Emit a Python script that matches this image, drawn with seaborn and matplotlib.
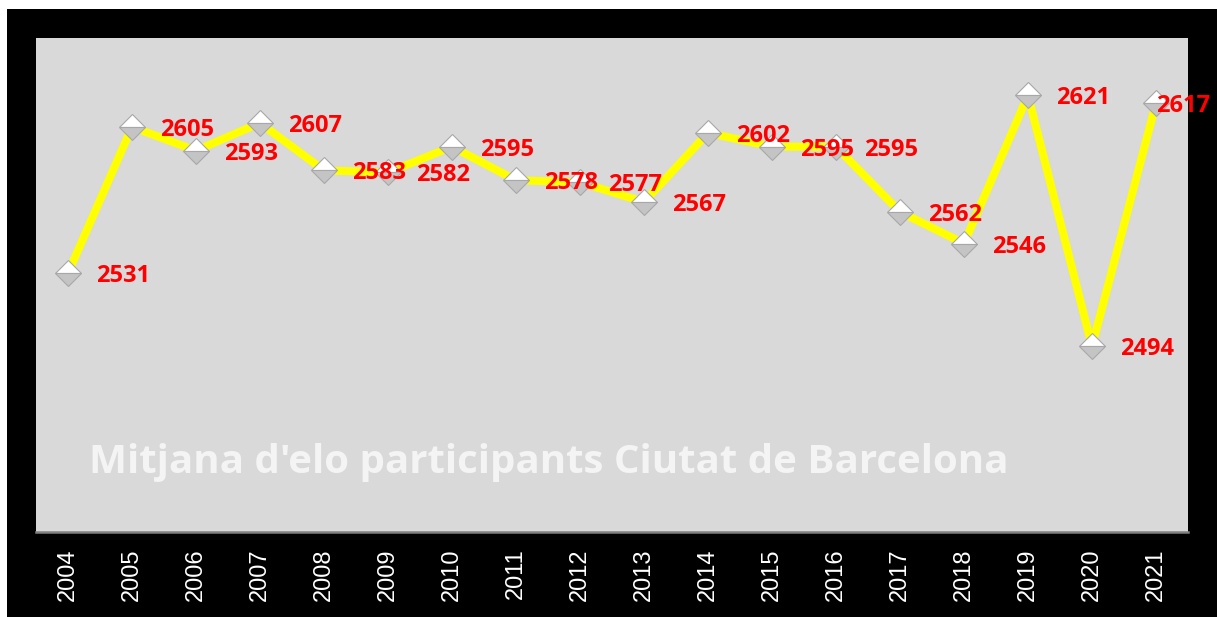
import matplotlib
matplotlib.use("Agg")
import matplotlib.pyplot as plt
import seaborn as sns
import pandas as pd
from matplotlib.patches import Rectangle

years = ["2004", "2005", "2006", "2007", "2008", "2009", "2010", "2011", "2012",
         "2013", "2014", "2015", "2016", "2017", "2018", "2019", "2020", "2021"]
elo = [2531, 2605, 2593, 2607, 2583, 2582, 2595, 2578, 2577,
       2567, 2602, 2595, 2595, 2562, 2546, 2621, 2494, 2617]
title = "Mitjana d'elo participants Ciutat de Barcelona"

df = pd.DataFrame({"year": years, "elo": elo})

sns.set_style("white")
plt.rcParams["font.family"] = ["Open Sans", "DejaVu Sans"]

fig = plt.figure(figsize=(12.17, 6.17), dpi=100)
fig.patch.set_facecolor("white")
# black frame behind the chart
fig.patches.append(Rectangle((7 / 1217, 0), 1 - 7 / 1217, 1 - 9 / 617,
                             transform=fig.transFigure, facecolor="black",
                             edgecolor="none", zorder=-10))

ax = fig.add_axes([36 / 1217, 85 / 617, 1152 / 1217, 494 / 617])
ax.set_zorder(1)
ax.set_facecolor("#d9d9d9")

sns.lineplot(data=df, x="year", y="elo", ax=ax, color="#ffff00", linewidth=5.8,
             marker="D", markersize=13, markerfacecolor="white",
             markerfacecoloralt="#c4c4c4", fillstyle="top",
             markeredgecolor="#a8a8a8", markeredgewidth=0.8, sort=False)

for i, v in enumerate(elo):
    dx = 20 if i < len(elo) - 1 else 0
    ax.annotate(str(v), (i, v), xytext=(dx, 0), textcoords="offset points",
                ha="left", va="center_baseline", color="#ff0000", fontsize=17,
                fontweight="bold", annotation_clip=False)

ax.text(0.046, 0.14, title, transform=ax.transAxes, color="#f4f4f4",
        fontsize=29, fontweight="bold", ha="left", va="center")

ax.set_xlim(-0.5, len(years) - 0.5)
ax.set_ylim(2400, 2650)
ax.set_xlabel("")
ax.set_ylabel("")
ax.set_yticks([])
ax.tick_params(axis="x", length=0, pad=12, labelsize=17, labelcolor="white",
               rotation=90)
for lab in ax.get_xticklabels():
    lab.set_family("Liberation Sans")
for s in ["top", "left", "right"]:
    ax.spines[s].set_visible(False)
ax.spines["bottom"].set_color("#808080")
ax.spines["bottom"].set_linewidth(1.8)

fig.savefig("out.png", dpi=100, facecolor=fig.get_facecolor())
